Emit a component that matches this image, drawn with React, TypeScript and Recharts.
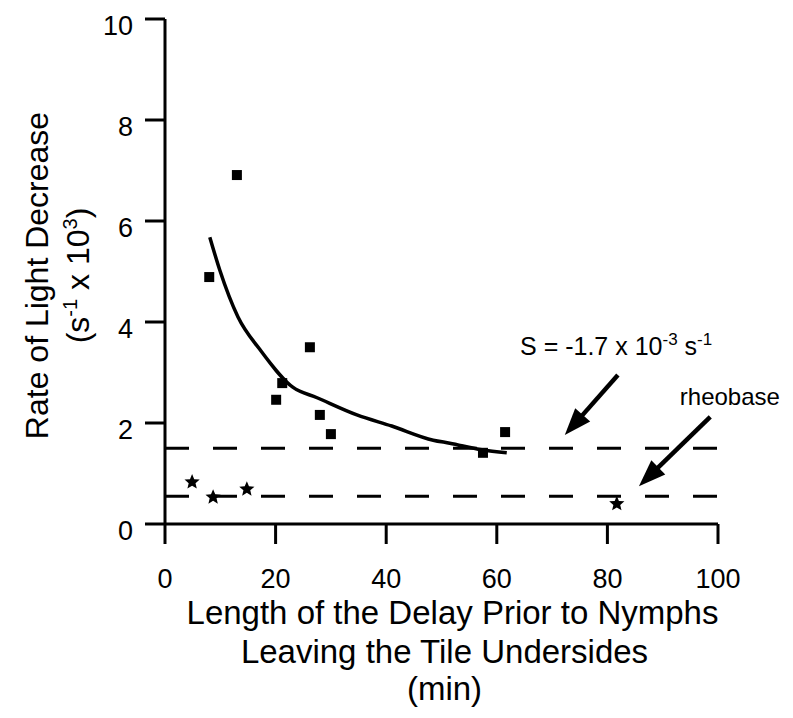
import {
  ComposedChart, Line, Scatter, XAxis, YAxis, ReferenceLine, ReferenceDot
} from 'recharts';

const FONT = '"Liberation Sans", Arial, Helvetica, sans-serif';

// filled squares
const squareX = [8.0, 13.0, 20.1, 21.2, 26.2, 28.0, 30.0, 57.5, 61.5];
const squareY = [4.89, 6.91, 2.46, 2.79, 3.5, 2.16, 1.78, 1.41, 1.82];

// stars
const starX = [4.9, 8.7, 14.8, 81.7];
const starY = [0.83, 0.53, 0.69, 0.4];

// fitted curve
const curveX = [8.1, 9.9, 13.2, 17.2, 23.1, 27.5, 34.7, 41.0, 48.5, 51.5, 57.3, 61.8];
const curveY = [5.68, 5.03, 4.1, 3.45, 2.71, 2.5, 2.16, 1.94, 1.66, 1.6, 1.47, 1.41];

// horizontal dashed levels
const sLevel = 1.5;
const rheobaseLevel = 0.55;

const xTicks = [0, 20, 40, 60, 80, 100];
const yTicks = [0, 2, 4, 6, 8, 10];

// annotation anchors (data coordinates)
const sArrow = [{ x: 81.9, y: 2.95 }, { x: 72.3, y: 1.76 }];
const rheoArrow = [{ x: 98.6, y: 2.12 }, { x: 85.7, y: 0.75 }];
const sLabelAt = { x: 64.2, y: 3.35 };
const rheoLabelAt = { x: 93.1, y: 2.36 };

const squares = squareX.map((x, i) => ({ x, y: squareY[i] }));
const stars = starX.map((x, i) => ({ x, y: starY[i] }));
const curve = curveX.map((x, i) => ({ x, y: curveY[i] }));

const SquareDot = ({ cx, cy }: any) => (
  <rect x={cx - 5} y={cy - 5} width={10} height={10} fill="#000" />
);

const StarDot = ({ cx, cy }: any) => {
  const pts: string[] = [];
  for (let i = 0; i < 10; i++) {
    const r = i % 2 === 0 ? 8 : 3.6;
    const a = -Math.PI / 2 + (i * Math.PI) / 5;
    pts.push(`${cx + r * Math.cos(a)},${cy + r * Math.sin(a)}`);
  }
  return <polygon points={pts.join(' ')} fill="#000" />;
};

const Arrow = ({ x1, y1, x2, y2 }: any) => {
  const dx = x2 - x1, dy = y2 - y1;
  const len = Math.sqrt(dx * dx + dy * dy);
  const ux = dx / len, uy = dy / len;
  const head = 27, half = 10;
  const bx = x2 - ux * head, by = y2 - uy * head;
  const p1 = `${bx - uy * half},${by + ux * half}`;
  const p2 = `${bx + uy * half},${by - ux * half}`;
  return (
    <g>
      <line x1={x1} y1={y1} x2={bx + ux * 4} y2={by + uy * 4} stroke="#000" strokeWidth={4.5} />
      <polygon points={`${x2},${y2} ${p1} ${p2}`} fill="#000" />
    </g>
  );
};

const SLabel = ({ cx, cy }: any) => (
  <text x={cx} y={cy} fontSize={25} fontFamily={FONT} fill="#000">
    S = -1.7 x 10
    <tspan dy={-10} fontSize={17}>-3</tspan>
    <tspan dy={10}> s</tspan>
    <tspan dy={-10} fontSize={17}>-1</tspan>
  </text>
);

const RheoLabel = ({ cx, cy }: any) => (
  <text x={cx} y={cy} fontSize={24} fontFamily={FONT} fill="#000">rheobase</text>
);

const XTick = ({ x, y, payload }: any) => (
  <text x={x} y={y + 44} textAnchor="middle" fontSize={27} fontFamily={FONT} fill="#000">
    {payload.value}
  </text>
);

const YTick = ({ x, y, payload }: any) => (
  <text x={x} y={y + 7} textAnchor="end" dominantBaseline="central" fontSize={27} fontFamily={FONT} fill="#000">
    {payload.value}
  </text>
);

const XTitle = ({ viewBox }: any) => {
  const cx = viewBox.x + viewBox.width / 2 + 3;
  const y = viewBox.y;
  return (
    <g fontFamily={FONT} fontSize={33} fill="#000" textAnchor="middle">
      <text x={cx + 8} y={y + 100}>Length of the Delay Prior to Nymphs</text>
      <text x={cx} y={y + 139}>Leaving the Tile Undersides</text>
      <text x={cx} y={y + 176}>(min)</text>
    </g>
  );
};

const YTitle = ({ viewBox }: any) => {
  const cy = viewBox.y + viewBox.height / 2 + 4;
  return (
    <g fontFamily={FONT} fontSize={32} fill="#000" textAnchor="middle">
      <text transform={`translate(48, ${cy}) rotate(-90)`}>Rate of Light Decrease</text>
      <text transform={`translate(89, ${cy}) rotate(-90)`}>
        (s<tspan dy={-12} fontSize={20}>-1</tspan>
        <tspan dy={12}> x 10</tspan>
        <tspan dy={-12} fontSize={20}>3</tspan>
        <tspan dy={12}>)</tspan>
      </text>
    </g>
  );
};

export default function App() {
  return (
    <div style={{ position: 'absolute', left: 0, top: 0, background: '#fff' }}>
      <ComposedChart width={793} height={718} margin={{ top: 19, right: 75, bottom: 0, left: 0 }}>
        <XAxis
          type="number"
          dataKey="x"
          domain={[0, 100]}
          ticks={xTicks}
          height={194}
          tickSize={20}
          tickMargin={0}
          axisLine={{ stroke: '#000', strokeWidth: 3 }}
          tickLine={{ stroke: '#000', strokeWidth: 3 }}
          tick={<XTick />}
          label={{ content: <XTitle /> }}
        />
        <YAxis
          type="number"
          dataKey="y"
          domain={[0, 10]}
          ticks={yTicks}
          width={165}
          tickSize={20}
          tickMargin={12}
          axisLine={{ stroke: '#000', strokeWidth: 3 }}
          tickLine={{ stroke: '#000', strokeWidth: 3 }}
          tick={<YTick />}
          label={{ content: <YTitle /> }}
        />
        <ReferenceLine y={sLevel} stroke="#000" strokeWidth={3} strokeDasharray="24 24" />
        <ReferenceLine y={rheobaseLevel} stroke="#000" strokeWidth={3} strokeDasharray="24 24" />
        <Line
          data={curve}
          dataKey="y"
          type="monotone"
          stroke="#000"
          strokeWidth={3.5}
          dot={false}
          activeDot={false}
          isAnimationActive={false}
        />
        <Scatter data={squares} dataKey="y" shape={<SquareDot />} isAnimationActive={false} />
        <Scatter data={stars} dataKey="y" shape={<StarDot />} isAnimationActive={false} />
        <ReferenceLine segment={sArrow} shape={<Arrow />} ifOverflow="visible" />
        <ReferenceLine segment={rheoArrow} shape={<Arrow />} ifOverflow="visible" />
        <ReferenceDot x={sLabelAt.x} y={sLabelAt.y} shape={<SLabel />} ifOverflow="visible" />
        <ReferenceDot x={rheoLabelAt.x} y={rheoLabelAt.y} shape={<RheoLabel />} ifOverflow="visible" />
      </ComposedChart>
    </div>
  );
}
